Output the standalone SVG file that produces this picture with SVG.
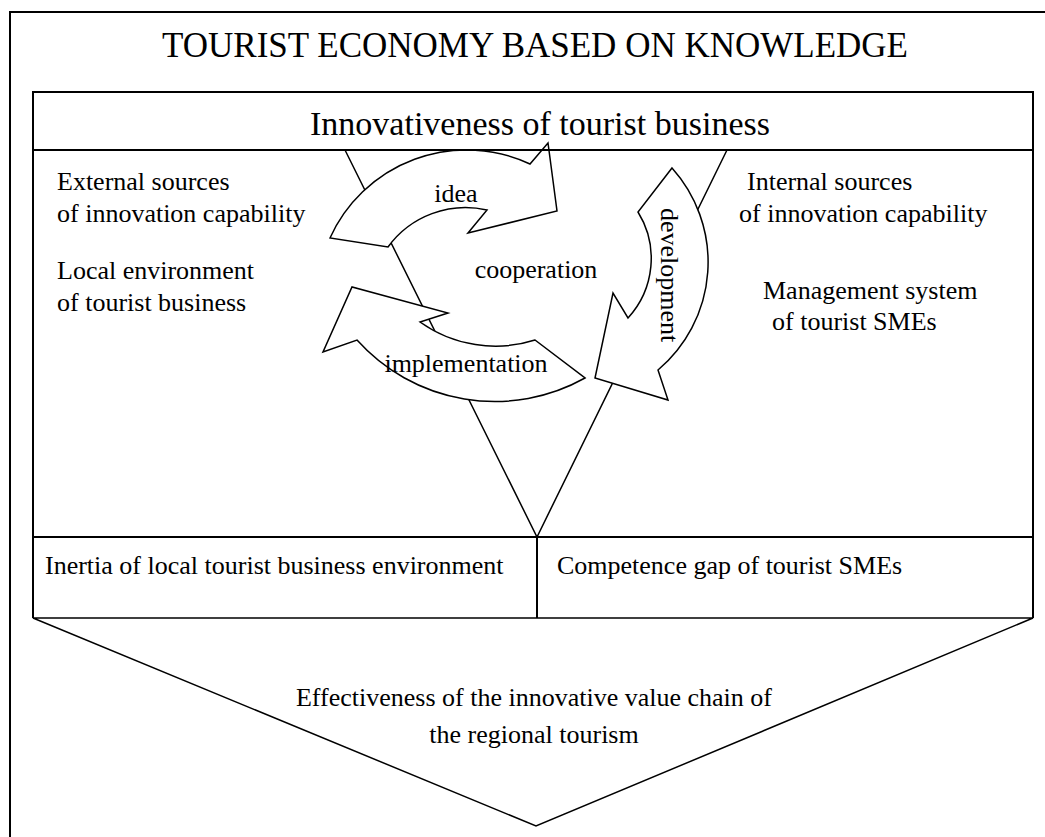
<svg xmlns="http://www.w3.org/2000/svg" width="1045" height="837" viewBox="0 0 1045 837">
<style>
  .t{font-family:"Liberation Serif","Times New Roman",serif;fill:#000}
  .b{font-size:26px}
  .ln{fill:none;stroke:#000;stroke-width:2}
  .arr{fill:#fff;stroke:#000;stroke-width:1.5;stroke-linejoin:miter}
  .thin{fill:none;stroke:#000;stroke-width:1.5}
</style>
<rect width="1045" height="837" fill="#fff"/>
<g id="frame">
  <path class="ln" d="M10,837 V12 H1045"/>
  <text class="t" x="535" y="57" font-size="35" text-anchor="middle">TOURIST ECONOMY BASED ON KNOWLEDGE</text>
</g>
<g id="value-chain">
  <polygon class="thin" points="33,618 1033,618 536,826"/>
  <text class="t b" x="534" y="706" text-anchor="middle">Effectiveness of the innovative value chain of</text>
  <text class="t b" x="534" y="743" text-anchor="middle">the regional tourism</text>
</g>
<g id="connectors">
  <polyline class="thin" points="345,150 537,537 727,150"/>
</g>
<g id="arrow-idea">
  <path class="arr" d="M330,238 A150,150 0 0 1 530,164 L548,143 L557,211 L468,233 L487,210 A96,96 0 0 0 388,247 Z"/>
  <text class="t b" x="456" y="202" text-anchor="middle">idea</text>
</g>
<g id="arrow-development">
  <path class="arr" d="M672,168 A141,141 0 0 1 658,370 L668,400 L595,378 L613,293 L628,318 A88,88 0 0 0 638,212 Z"/>
  <text class="t b" transform="translate(661,208) rotate(90)">development</text>
</g>
<g id="arrow-implementation">
  <path class="arr" d="M585,378 A185,185 0 0 1 357,340 L323,352 L352,287 L448,313 L420,322 A130,130 0 0 0 535,340 Z"/>
  <text class="t b" x="466" y="372" text-anchor="middle">implementation</text>
</g>
<g id="cooperation">
  <text class="t b" x="536" y="278" text-anchor="middle">cooperation</text>
</g>
<g id="innovativeness">
  <path class="ln" d="M33,618 V92 H1033 V618 M33,150 H1033 M33,537 H1033"/>
  <text class="t" x="540" y="135" font-size="34" text-anchor="middle">Innovativeness of tourist business</text>
</g>
<g id="external-sources">
  <text class="t b" x="57" y="190">External sources</text>
  <text class="t b" x="57" y="222">of innovation capability</text>
</g>
<g id="local-environment">
  <text class="t b" x="57" y="279">Local environment</text>
  <text class="t b" x="57" y="311">of tourist business</text>
</g>
<g id="internal-sources">
  <text class="t b" x="747" y="190">Internal sources</text>
  <text class="t b" x="739" y="222">of innovation capability</text>
</g>
<g id="management-system">
  <text class="t b" x="763" y="299">Management system</text>
  <text class="t b" x="772" y="330">of tourist SMEs</text>
</g>
<g id="inertia">
  <text class="t b" x="45" y="574">Inertia of local tourist business environment</text>
</g>
<g id="competence-gap">
  <text class="t b" x="557" y="574">Competence gap of tourist SMEs</text>
  <line class="ln" x1="537" y1="537" x2="537" y2="618"/>
</g>
</svg>
